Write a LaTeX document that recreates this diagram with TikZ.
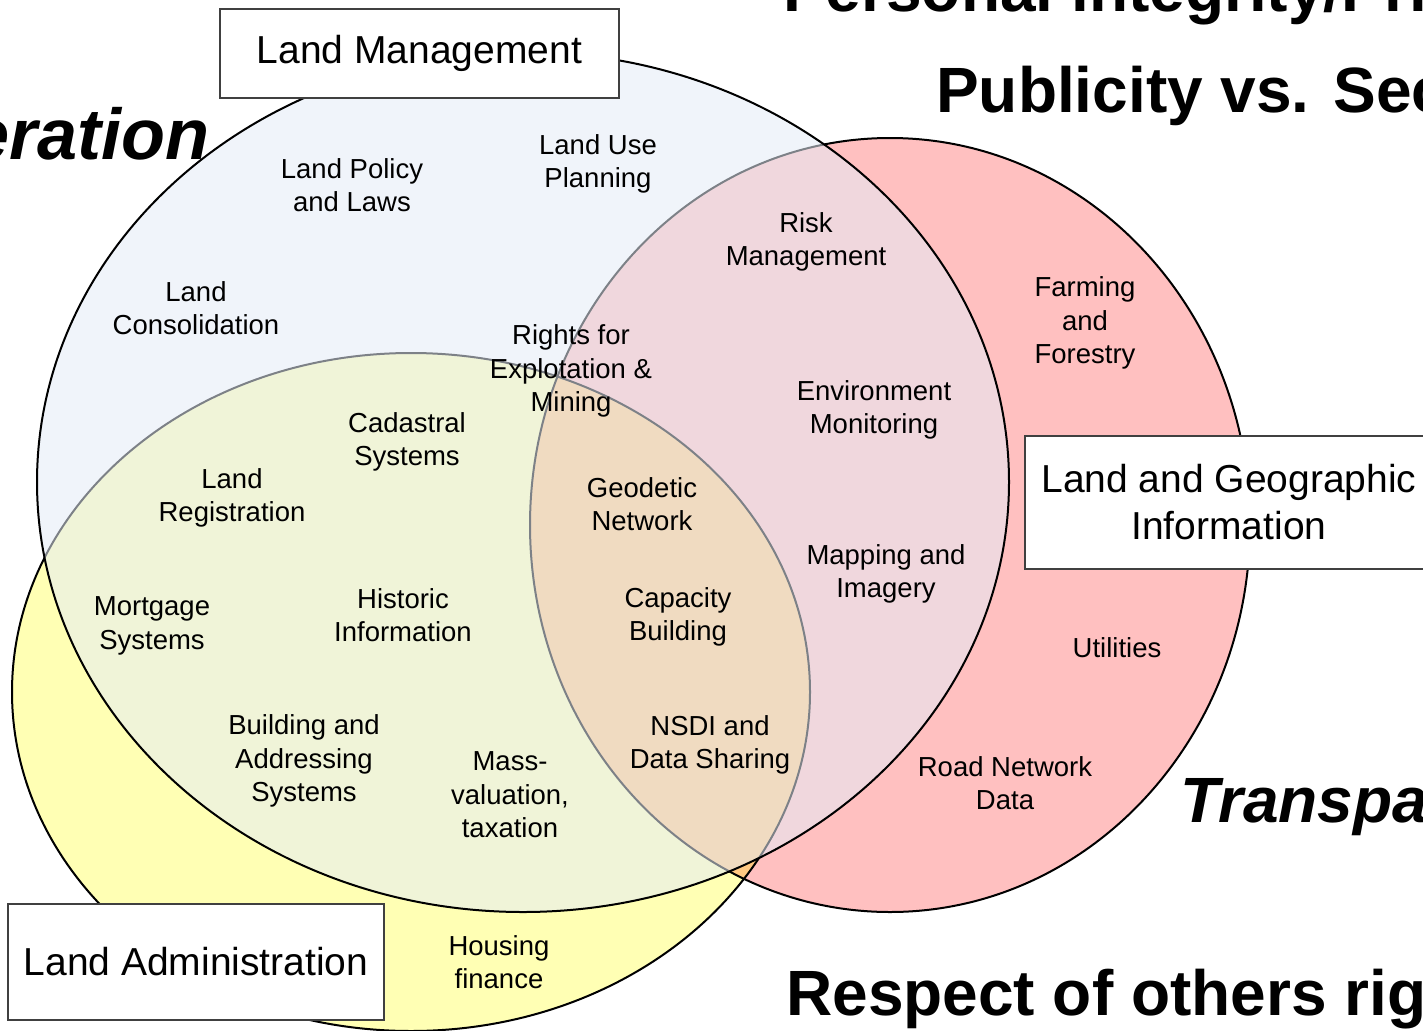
\documentclass[tikz,border=0pt]{standalone}
\usepackage{fontspec}
\setmainfont{Liberation Sans}

\definecolor{geored}{RGB}{255,192,192}
\definecolor{admyellow}{RGB}{255,255,180}
\definecolor{bothorange}{RGB}{255,200,130}
\definecolor{mgmtblue}{RGB}{228,235,246}

\begin{document}
\begin{tikzpicture}[x=1pt, y=-1pt,
    ring/.style={draw=black, line width=2pt},
    item/.style={align=center, inner sep=0pt, font=\fontsize{27.5}{33.5}\selectfont},
    areabox/.style={draw=black!75, line width=1.3pt, fill=white, align=center,
      inner sep=0pt, font=\fontsize{39}{47}\selectfont},
    motto/.style={inner sep=0pt, anchor=base west, font=\fontsize{64}{70}\selectfont\bfseries}]

    \useasboundingbox (0,0) rectangle (1423,1030);
    \clip (0,0) rectangle (1423,1030);

    % 楕円の塗り
    \fill[geored] (890,525) ellipse [x radius=360pt, y radius=387pt];
    \fill[admyellow] (411,692) ellipse [x radius=399pt, y radius=339pt];
    \begin{scope}
      \clip (890,525) ellipse [x radius=360pt, y radius=387pt];
      \fill[bothorange] (411,692) ellipse [x radius=399pt, y radius=339pt];
    \end{scope}
    \draw[ring] (890,525) ellipse [x radius=360pt, y radius=387pt];
    \draw[ring] (411,692) ellipse [x radius=399pt, y radius=339pt];

    % 上に重ねる半透明の楕円
    \fill[mgmtblue, fill opacity=0.55] (523,482) ellipse [x radius=486pt, y radius=430pt];
    \draw[ring] (523,482) ellipse [x radius=486pt, y radius=430pt];

    % 項目
    \node[item] (policy) at (352,185) {Land Policy\\and Laws};
    \node[item] (landuse) at (598,164) {Land Use\\Planning};
    \node[item] (consolidation) at (196,308) {Land\\Consolidation};
    \node[item] (risk) at (806,242) {Risk\\Management};
    \node[item] (farming) at (1085,323) {Farming\\and\\Forestry};
    \node[item] (mining) at (571,371) {Rights for\\Explotation \&\\Mining};
    \node[item] (environment) at (874,410) {Environment\\Monitoring};
    \node[item] (cadastral) at (407,442) {Cadastral\\Systems};
    \node[item] (registration) at (232,498) {Land\\Registration};
    \node[item] (geodetic) at (642,504) {Geodetic\\Network};
    \node[item] (mapping) at (886,574) {Mapping and\\Imagery};
    \node[item] (mortgage) at (152,626) {Mortgage\\Systems};
    \node[item] (historic) at (403,615) {Historic\\Information};
    \node[item] (capacity) at (678,617) {Capacity\\Building};
    \node[item] (utilities) at (1117,648) {Utilities};
    \node[item] (addressing) at (304,761) {Building and\\Addressing\\Systems};
    \node[item] (nsdi) at (710,745) {NSDI and\\Data Sharing};
    \node[item] (valuation) at (510,795) {Mass-\\valuation,\\taxation};
    \node[item] (road) at (1005,783) {Road Network\\Data};
    \node[item] (housing) at (499,962) {Housing\\finance};

    % 見出しの枠
    \node[areabox, minimum width=399pt, minimum height=89pt] (management) at (419.5,53.5) {Land Management};
    \node[areabox, minimum width=376pt, minimum height=116pt] (administration) at (196,962) {Land Administration};
    \node[areabox, minimum width=408pt, minimum height=133pt] (geoinfo) at (1229,502.5) {Land and Geographic\\Information};

    % 周りの大きな文字
    \node[motto] (privacy) at (783,12) {Personal integrity/Privacy};
    \node[motto] (publicity) at (936,113) {Publicity vs. Secrecy};
    \node[motto, font=\fontsize{64}{70}\selectfont\bfseries\itshape] (transparency) at (1180,822) {Transparency};
    \node[motto] (respect) at (786,1015) {Respect of others rights};
    \node[motto, anchor=base east, font=\fontsize{72}{78}\selectfont\bfseries\itshape] (cooperation) at (210,159) {Cooperation};

  \end{tikzpicture}
\end{document}
